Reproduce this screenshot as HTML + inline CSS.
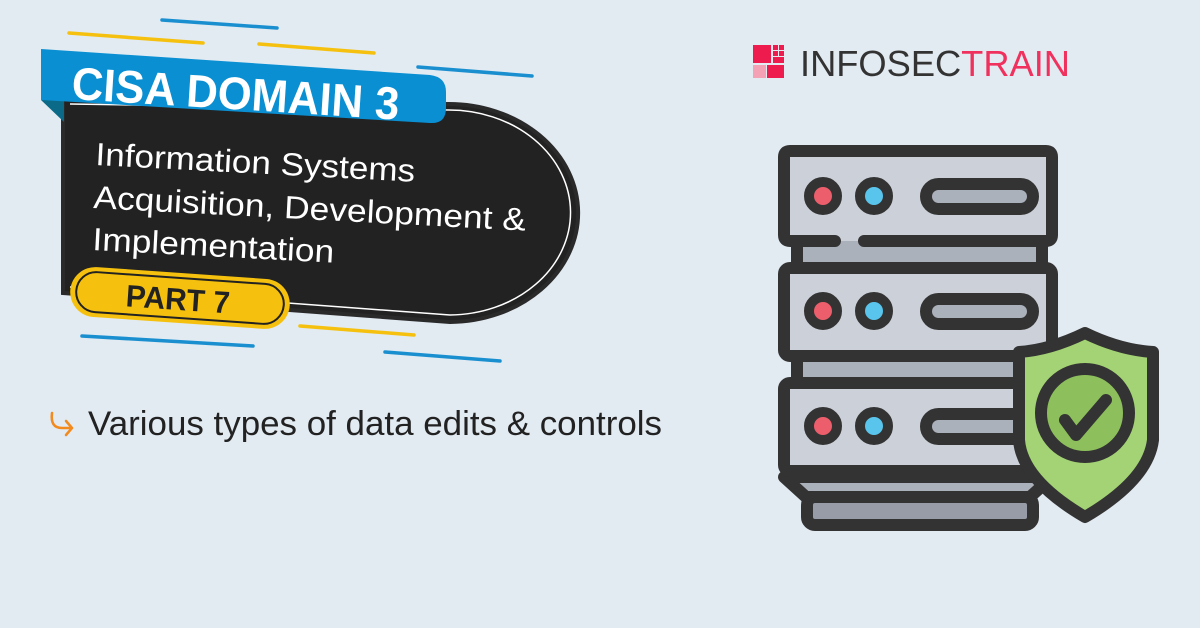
<!DOCTYPE html>
<html><head><meta charset="utf-8"><style>
html,body{margin:0;padding:0;background:#e2eaf2;}
svg{display:block;}
</style></head><body>
<svg width="1200" height="628" viewBox="0 0 1200 628" xmlns="http://www.w3.org/2000/svg">
<rect width="1200" height="628" fill="#e2eaf2"/>
<g stroke-width="3.5" stroke-linecap="round">
<line x1="69" y1="33" x2="203" y2="43" stroke="#f5c10e"/>
<line x1="162" y1="20" x2="277" y2="28" stroke="#1a8fd0"/>
<line x1="259" y1="44" x2="374" y2="53" stroke="#f5c10e"/>
<line x1="418" y1="67" x2="532" y2="76" stroke="#1a8fd0"/>
<line x1="300" y1="326" x2="414" y2="335" stroke="#f5c10e"/>
<line x1="82" y1="336" x2="253" y2="346" stroke="#1a8fd0"/>
<line x1="385" y1="352" x2="500" y2="361" stroke="#1a8fd0"/>
</g>
<path d="M63,98 L448,104 A128,108 0 0 1 450,322 L63,293 Z" fill="#222" stroke="#2a2a2a" stroke-width="4"/>
<path d="M70,104 L448,110 A121,102 0 0 1 450,315 L70,287" fill="none" stroke="#fff" stroke-width="1.5"/>
<polygon points="41,100 64,100 64,122" fill="#0b6a88"/>
<path d="M41,49 L430,75 Q446,77 446,92 L446,108 Q446,124 430,123 L41,100 Z" fill="#0a8fd2"/>
<text x="71" y="99" transform="rotate(3.6 71 99)" font-family="Liberation Sans, sans-serif" font-size="46" font-weight="bold" fill="#fff" textLength="328" lengthAdjust="spacingAndGlyphs">CISA DOMAIN 3</text>
<g font-family="Liberation Sans, sans-serif" font-size="32" fill="#fff">
<text x="95" y="165" transform="rotate(3 95 165)" textLength="320" lengthAdjust="spacingAndGlyphs">Information Systems</text>
<text x="93" y="208" transform="rotate(3 93 208)" textLength="433" lengthAdjust="spacingAndGlyphs">Acquisition, Development  &amp;</text>
<text x="92" y="250" transform="rotate(3 92 250)" textLength="242" lengthAdjust="spacingAndGlyphs">Implementation</text>
</g>
<g transform="rotate(4 180 298)">
<rect x="70" y="273" width="220" height="50" rx="25" fill="#f5c10e"/>
<rect x="76" y="278" width="208" height="40" rx="20" fill="none" stroke="#222" stroke-width="2"/>
<text x="126" y="310" font-family="Liberation Sans, sans-serif" font-size="31" font-weight="bold" fill="#222" textLength="104" lengthAdjust="spacingAndGlyphs">PART 7</text>
</g>
<path d="M52,413 Q50,428 62,428 L72,428 M66,421 L72,428 L66,435" fill="none" stroke="#f28a1e" stroke-width="2.5" stroke-linecap="round" stroke-linejoin="round"/>
<text x="88" y="435" font-family="Liberation Sans, sans-serif" font-size="34" fill="#222" textLength="574" lengthAdjust="spacingAndGlyphs">Various types of data edits &amp; controls</text>
<rect x="753" y="45" width="18" height="18" fill="#ee1c4e"/>
<rect x="773" y="45" width="5" height="5" fill="#ee1c4e"/><rect x="779" y="45" width="5" height="5" fill="#ee1c4e"/>
<rect x="773" y="51" width="5" height="5" fill="#ee1c4e"/><rect x="779" y="51" width="5" height="5" fill="#ee1c4e"/>
<rect x="773" y="57" width="11" height="6" fill="#ee1c4e"/>
<rect x="753" y="65" width="13" height="13" fill="#f4a0b5"/>
<rect x="767" y="65" width="17" height="13" fill="#ee1c4e"/>
<text x="800" y="76" font-family="Liberation Sans, sans-serif" font-size="36" fill="#333" textLength="270" lengthAdjust="spacingAndGlyphs"><tspan>INFOSEC</tspan><tspan fill="#f0315e">TRAIN</tspan></text>
<rect x="797" y="240" width="245" height="30" fill="#abb1ba"/>
<rect x="797" y="355" width="245" height="30" fill="#abb1ba"/>
<g stroke="#333" stroke-width="12" stroke-linecap="round">
<line x1="797" y1="240" x2="797" y2="270"/><line x1="1042" y1="240" x2="1042" y2="270"/>
<line x1="797" y1="355" x2="797" y2="385"/><line x1="1042" y1="355" x2="1042" y2="385"/>
</g>
<g stroke="#333" stroke-width="12" stroke-linejoin="round" stroke-linecap="round">
<polygon points="784,477 1052,477 1030,497 806,497" fill="#abb1ba"/>
<rect x="807" y="497" width="226" height="28" rx="8" fill="#979ca6"/>
<path d="M835,241 L790,241 Q784,241 784,235 L784,157 Q784,151 790,151 L1046,151 Q1052,151 1052,157 L1052,235 Q1052,241 1046,241 L864,241" fill="#ccd1d9"/>
<rect x="784" y="268" width="268" height="88" rx="6" fill="#ccd1d9"/>
<rect x="784" y="383" width="268" height="88" rx="6" fill="#ccd1d9"/>
<g fill="#abb1ba"><rect x="926" y="184" width="107" height="25" rx="12.5"/><rect x="926" y="299" width="107" height="25" rx="12.5"/><rect x="926" y="414" width="107" height="25" rx="12.5"/></g>
<g stroke-width="10"><circle cx="823" cy="196" r="14" fill="#ed5e6c"/><circle cx="874" cy="196" r="14" fill="#5ac5ec"/>
<circle cx="823" cy="311" r="14" fill="#ed5e6c"/><circle cx="874" cy="311" r="14" fill="#5ac5ec"/>
<circle cx="823" cy="426" r="14" fill="#ed5e6c"/><circle cx="874" cy="426" r="14" fill="#5ac5ec"/></g>
</g>
<path d="M1085,333 Q1050,350 1019,352 L1019,440 Q1022,480 1085,517 Q1148,480 1153,440 L1153,352 Q1120,350 1085,333 Z" fill="#a3d374" stroke="#333" stroke-width="12" stroke-linejoin="round"/>
<circle cx="1085" cy="413" r="44" fill="#8dbf5c" stroke="#333" stroke-width="12"/>
<polyline points="1065,420 1076,435 1106,400" fill="none" stroke="#333" stroke-width="12" stroke-linecap="round" stroke-linejoin="round"/>
</svg>
</body></html>
